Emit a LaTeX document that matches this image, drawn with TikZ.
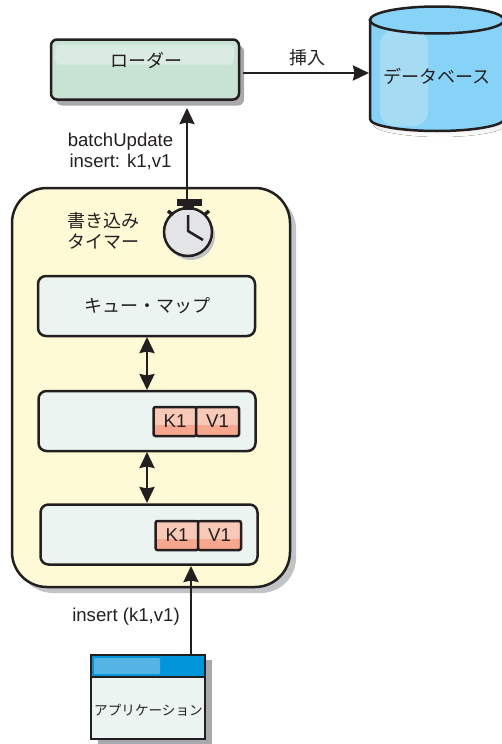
\documentclass[tikz,border=0pt]{standalone}
\usepackage{fontspec}
\setmainfont{Liberation Sans}
\newfontfamily\cjk{Noto Sans CJK JP}
\usetikzlibrary{arrows.meta, shadows}
\definecolor{ink}{HTML}{231F20}
\definecolor{shade}{HTML}{A8A9AD}
\definecolor{loaderfill}{HTML}{C8E3D4}
\definecolor{loaderhigh}{HTML}{DAECE1}
\definecolor{dbfill}{HTML}{87D3F7}
\definecolor{dbhigh}{HTML}{A6DBF4}
\definecolor{cachefill}{HTML}{FFFAD6}
\definecolor{boxfill}{HTML}{EBF4F1}
\definecolor{kvhigh}{HTML}{F7C9B6}
\definecolor{kvlow}{HTML}{F6A78D}
\definecolor{appblue}{HTML}{0096D9}
\definecolor{apphigh}{HTML}{55B4E4}
\definecolor{clockfill}{HTML}{E3E4E6}
\tikzset{> = {Stealth[length=16pt, width=15pt, inset=1.5pt]}}
\tikzset{
  lbl/.style = {text=ink, font=\fontsize{18.6}{21}\selectfont, align=center, inner sep=0pt},
  jplbl/.style = {text=ink, font=\fontsize{18}{21}\selectfont\cjk, align=center, inner sep=0pt},
  flow/.style = {->, ink, line width=2.5pt},
  twoway/.style = {<->, ink, line width=2.5pt},
  solid box/.style = {draw=ink, line width=2.5pt, rectangle, outer sep=0pt, inner sep=0pt},
  mapbox/.style = {solid box, rounded corners=8pt, fill=boxfill, minimum width=217pt, minimum height=60pt},
  kvcell/.style = {solid box, rounded corners=2pt, fill=kvhigh, minimum width=43pt, minimum height=29pt,
    path picture={\fill[kvlow] (path picture bounding box.south west) rectangle ([yshift=11pt]path picture bounding box.south east);}},
}

\begin{document}
\begin{tikzpicture}[x=1pt, y=-1pt]
\useasboundingbox (0, 0) rectangle (502, 744);
\clip (0, 0) rectangle (502, 744);
% database, drawn by hand
\fill[shade] (373, 61) -- (373, 124) arc[start angle=180, end angle=0, x radius=67, y radius=13] -- (507, 61) -- cycle;
\path[fill=dbfill, draw=ink, line width=2.5pt] (370, 20) -- (370, 119) arc[start angle=180, end angle=0, x radius=67, y radius=12] -- (504, 20) -- cycle;
\fill[dbhigh, rounded corners=14pt] (380, 30) rectangle (428, 126);
\draw[ink, line width=2.5pt, fill=dbfill] (437, 20) ellipse[x radius=67, y radius=13.5];
% nodes
\node[solid box, rounded corners=6pt, fill=loaderfill, minimum width=188pt, minimum height=60pt,
  drop shadow={shadow xshift=5pt, shadow yshift=-6pt, fill=shade, opacity=1},
  path picture={\fill[loaderhigh, rounded corners=5pt] ([shift={(4pt,-5pt)}]path picture bounding box.north west) rectangle ([shift={(-5pt,5pt)}]path picture bounding box.east);}]
  (loader) at (145, 69.5) {};
\node[jplbl] (loadertext) at (146, 60) {ローダー};
\node[jplbl] (dbtext) at (437, 76) {データベース};
\node[jplbl] (inserttext) at (307, 58) {挿入};
\coordinate (dbin) at (369, 73);
\coordinate (loaderout) at (243, 73);
\node[lbl] (batchtext) at (120.5, 151) {batchUpdate\\insert: k1,v1};
\node[solid box, rounded corners=35pt, fill=cachefill, minimum width=278pt, minimum height=399pt,
  drop shadow={shadow xshift=6pt, shadow yshift=-6pt, fill=shade!70, opacity=1}]
  (cache) at (151, 387.5) {};
\node[jplbl] (timertext) at (103, 231) {書き込み\\タイマー};
% timer
\fill[shade!70] (191, 236) circle[radius=24];
\node[solid box, circle, fill=clockfill, minimum size=48pt] (timer) at (188, 232) {};
\draw[ink, line width=2.5pt] (188, 215) -- (188, 231) -- (203, 240);
\fill[ink] (183, 205) rectangle (194, 210);
\node[rectangle, fill=ink, minimum width=25pt, minimum height=7pt, inner sep=0pt, outer sep=0pt] (timercap) at (189.5, 202.5) {};
\draw[ink, line width=3.5pt] (173, 215) -- (168, 211);
\draw[ink, line width=3.5pt] (204, 215) -- (209, 211);
\coordinate (timerout) at (187, 200);
\coordinate (loaderin) at (187, 108);
% inner boxes
\node[mapbox] (queuemap) at (146.5, 306) {};
\node[jplbl] (queuetext) at (147, 306) {キュー・マップ};
\node[mapbox] (mapa) at (147, 421) {};
\node[lbl, kvcell, text depth=-1pt] (keya) at (175, 421.5) {K1};
\node[lbl, kvcell, text depth=-1pt] (vala) at (217.5, 421.5) {V1};
\node[mapbox] (mapb) at (149, 534.5) {};
\node[lbl, kvcell, text depth=-1pt] (keyb) at (177, 535.5) {K1};
\node[lbl, kvcell, text depth=-1pt] (valb) at (219.5, 535.5) {V1};
\node[lbl] (appinsert) at (126, 617) {insert (k1,v1)};
% application
\node[solid box, fill=boxfill, minimum width=114pt, minimum height=84pt,
  drop shadow={shadow xshift=7pt, shadow yshift=-5pt, fill=shade, opacity=1}]
  (appbody) at (148, 697) {};
\node[solid box, fill=appblue, minimum width=114pt, minimum height=22pt,
  path picture={\fill[apphigh, rounded corners=1pt] ([shift={(3pt,-3pt)}]path picture bounding box.north west) rectangle ([shift={(69pt,3pt)}]path picture bounding box.south west);}]
  (apptitle) at (148, 666) {};
\node[jplbl, font=\fontsize{13.6}{16}\selectfont\cjk] (apptext) at (148.5, 710) {アプリケーション};
\coordinate (appout) at (191, 655);
\coordinate (mapbin) at (191, 566);
\coordinate (queuedown) at (147, 337);
\coordinate (mapaup) at (147, 390);
\coordinate (mapadown) at (147, 452);
\coordinate (mapbup) at (147, 503);
% edges
\draw[flow] (loaderout) -- (dbin);
\draw[flow] (timerout) -- (loaderin);
\draw[twoway] (queuedown) -- (mapaup);
\draw[twoway] (mapadown) -- (mapbup);
\draw[flow] (appout) -- (mapbin);
\end{tikzpicture}
\end{document}
